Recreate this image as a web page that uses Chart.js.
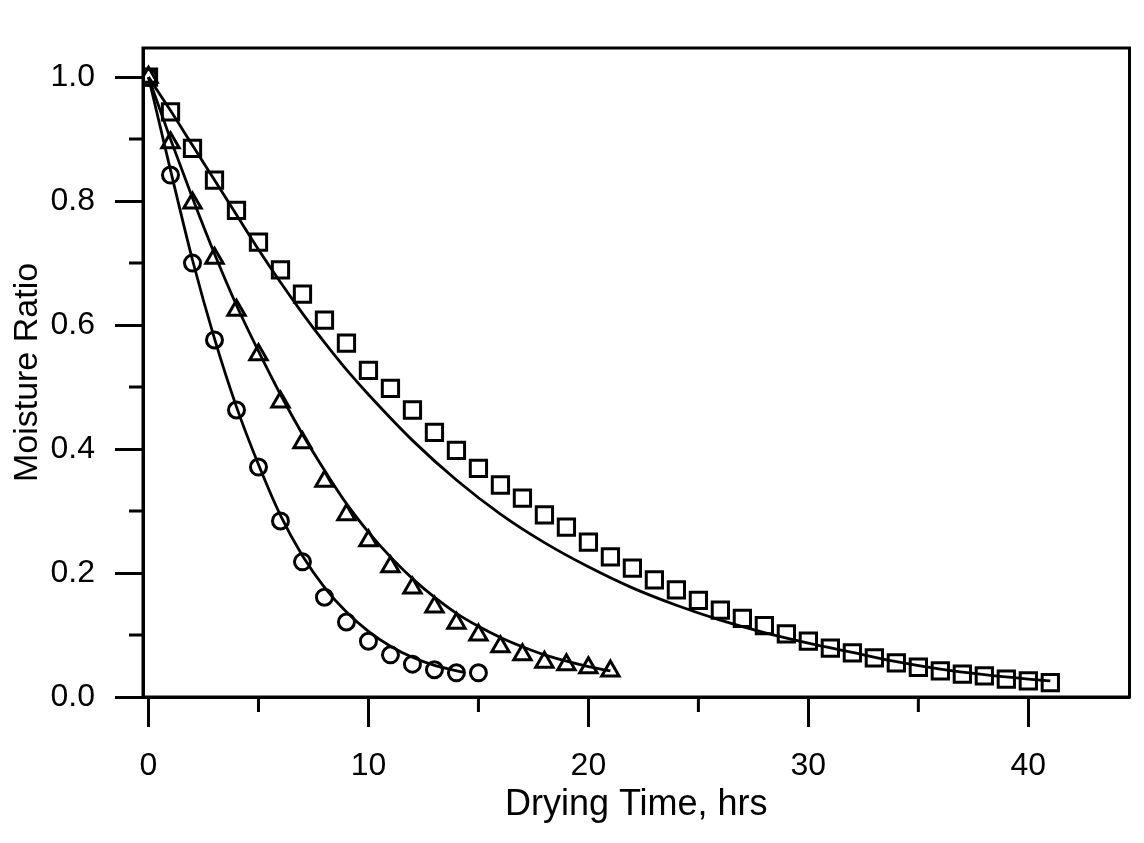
<!DOCTYPE html>
<html>
<head>
<meta charset="utf-8">
<title>Moisture Ratio vs Drying Time</title>
<script src="https://cdn.jsdelivr.net/npm/chart.js@4.4.0/dist/chart.umd.min.js"></script>
<style>
    html, body { margin: 0; padding: 0; background: #fff; }
    #wrap { width: 1144px; height: 843px; }
</style>
</head>
<body>
<div id="wrap"><canvas id="dryingChart" width="1144" height="843"></canvas></div>
<script>
// measured points (open markers)
const circleX = [0, 1, 2, 3, 4, 5, 6, 7, 8, 9, 10, 11, 12, 13, 14, 15];
const circleY = [1.0, 0.842, 0.70, 0.576, 0.463, 0.371, 0.284, 0.218, 0.161, 0.121, 0.090, 0.068, 0.053, 0.044, 0.039, 0.039];

const triangleX = [0, 1, 2, 3, 4, 5, 6, 7, 8, 9, 10, 11, 12, 13, 14, 15, 16, 17, 18, 19, 20, 21];
const triangleY = [1.0, 0.894, 0.797, 0.708, 0.624, 0.552, 0.476, 0.41, 0.348, 0.294, 0.252, 0.21, 0.176, 0.145, 0.119, 0.10, 0.081, 0.068, 0.056, 0.052, 0.047, 0.042];

const squareX = [0, 1, 2, 3, 4, 5, 6, 7, 8, 9, 10, 11, 12, 13, 14, 15, 16, 17, 18, 19, 20,
    21, 22, 23, 24, 25, 26, 27, 28, 29, 30, 31, 32, 33, 34, 35, 36, 37, 38, 39, 40, 41];
const squareY = [1.0, 0.944, 0.885, 0.834, 0.785, 0.734, 0.689, 0.65, 0.608, 0.571, 0.527,
    0.498, 0.463, 0.427, 0.398, 0.369, 0.342, 0.321, 0.294, 0.274, 0.25,
    0.226, 0.208, 0.189, 0.173, 0.156, 0.14, 0.127, 0.115, 0.102, 0.09,
    0.079, 0.071, 0.063, 0.055, 0.048, 0.042, 0.037, 0.034, 0.029, 0.026, 0.023];

// fitted model curves (solid lines)
const fitCircleX = [0, 1, 2, 3, 4, 5, 6, 7, 8, 9, 10, 11, 12, 13, 14.3];
const fitCircleY = [1.0, 0.85, 0.705, 0.578, 0.468, 0.375, 0.293, 0.228, 0.177, 0.137, 0.106, 0.082, 0.064, 0.051, 0.040];

const fitTriangleX = [0, 1, 2, 3, 4, 5, 6, 7, 8, 9, 10, 11, 12, 13, 14, 15, 16, 17, 18, 19, 20, 21];
const fitTriangleY = [1.0, 0.9, 0.805, 0.715, 0.632, 0.558, 0.488, 0.424, 0.366, 0.312, 0.266, 0.226, 0.191, 0.161, 0.135, 0.114, 0.096, 0.081, 0.068, 0.058, 0.049, 0.042];

const fitSquareX = [0, 1, 2, 3, 4, 5, 6, 7, 8, 9, 10, 12, 14, 16, 18, 20, 22, 24, 26, 28, 30, 32, 34, 36, 38, 40, 41];
const fitSquareY = [1.0, 0.946, 0.89, 0.834, 0.778, 0.722, 0.669, 0.619, 0.572, 0.528, 0.488, 0.414, 0.35, 0.295, 0.249, 0.21, 0.176, 0.148, 0.124, 0.104, 0.087, 0.072, 0.057, 0.045, 0.036, 0.029, 0.026];

// axes
const xMajorTicks = [0, 10, 20, 30, 40];
const xTickLabels = ['0', '10', '20', '30', '40'];
const xMinorTicks = [5, 15, 25, 35];
const yMajorTicks = [0, 0.2, 0.4, 0.6, 0.8, 1.0];
const yTickLabels = ['0.0', '0.2', '0.4', '0.6', '0.8', '1.0'];
const yMinorTicks = [0.1, 0.3, 0.5, 0.7, 0.9];

const FONT = '"Liberation Sans", Arial, Helvetica, sans-serif';
const INK = '#000';

const toPoints = (xs, ys) => xs.map((x, i) => ({ x: x, y: ys[i] }));

const markerSet = (label, xs, ys, style, radius) => ({
    label: label,
    data: toPoints(xs, ys),
    showLine: false,
    pointStyle: style,
    pointRadius: radius,
    pointHoverRadius: radius,
    pointBorderWidth: 3,
    pointBorderColor: INK,
    pointBackgroundColor: 'rgba(0,0,0,0)'
});

const fitSet = (label, xs, ys) => ({
    label: label,
    data: toPoints(xs, ys),
    showLine: true,
    borderColor: INK,
    borderWidth: 2.8,
    pointRadius: 0,
    cubicInterpolationMode: 'monotone',
    fill: false
});

// short ticks between the labelled ones, plus the closed frame
const frameAndMinorTicks = {
    id: 'frameAndMinorTicks',
    afterDraw(chart) {
        const { ctx, chartArea, scales } = chart;
        ctx.save();
        ctx.strokeStyle = INK;
        ctx.lineWidth = 3;
        ctx.beginPath();
        xMinorTicks.forEach(v => {
            const px = scales.x.getPixelForValue(v);
            ctx.moveTo(px, chartArea.bottom);
            ctx.lineTo(px, chartArea.bottom + 15);
        });
        yMinorTicks.forEach(v => {
            const py = scales.y.getPixelForValue(v);
            ctx.moveTo(chartArea.left, py);
            ctx.lineTo(chartArea.left - 14, py);
        });
        ctx.stroke();
        ctx.strokeRect(chartArea.left, chartArea.top, chartArea.width, chartArea.height);
        ctx.restore();
    }
};

const ctx = document.getElementById('dryingChart').getContext('2d');

new Chart(ctx, {
    type: 'scatter',
    data: {
        datasets: [
            fitSet('Fit (circles)', fitCircleX, fitCircleY),
            fitSet('Fit (triangles)', fitTriangleX, fitTriangleY),
            fitSet('Fit (squares)', fitSquareX, fitSquareY),
            markerSet('Circles', circleX, circleY, 'circle', 8),
            markerSet('Triangles', triangleX, triangleY, 'triangle', 10),
            markerSet('Squares', squareX, squareY, 'rect', 11.5)
        ]
    },
    options: {
        responsive: false,
        animation: false,
        devicePixelRatio: 1,
        layout: { padding: { top: 48, right: 6, left: 0, bottom: 0 } },
        plugins: {
            legend: { display: false },
            tooltip: { enabled: false }
        },
        scales: {
            x: {
                type: 'linear',
                min: -0.25,
                max: 44.6,
                afterBuildTicks: scale => { scale.ticks = xMajorTicks.map(v => ({ value: v })); },
                afterFit: scale => {
                    scale.height = 146;
                    scale.paddingLeft = 0;
                    scale.paddingRight = 0;
                },
                ticks: {
                    callback: (value, index) => xTickLabels[index],
                    color: INK,
                    padding: 20,
                    maxRotation: 0,
                    font: { family: FONT, size: 32 }
                },
                grid: {
                    drawOnChartArea: false,
                    drawTicks: true,
                    tickLength: 30,
                    tickWidth: 3,
                    tickColor: INK
                },
                border: { display: true, color: INK, width: 3 },
                title: {
                    display: true,
                    text: 'Drying Time, hrs',
                    color: INK,
                    font: { family: FONT, size: 36 },
                    padding: { top: 0, bottom: 16 }
                }
            },
            y: {
                type: 'linear',
                min: 0,
                max: 1.047,
                afterBuildTicks: scale => { scale.ticks = yMajorTicks.map(v => ({ value: v })); },
                afterFit: scale => {
                    scale.width = 143;
                    scale.paddingTop = 0;
                    scale.paddingBottom = 0;
                },
                ticks: {
                    callback: (value, index) => yTickLabels[index],
                    color: INK,
                    padding: 20,
                    font: { family: FONT, size: 32 }
                },
                grid: {
                    drawOnChartArea: false,
                    drawTicks: true,
                    tickLength: 28,
                    tickWidth: 3,
                    tickColor: INK
                },
                border: { display: true, color: INK, width: 3 },
                title: {
                    display: true,
                    text: 'Moisture Ratio',
                    color: INK,
                    font: { family: FONT, size: 34 },
                    padding: { top: 7, bottom: 0 }
                }
            }
        }
    },
    plugins: [frameAndMinorTicks]
});
</script>
</body>
</html>
